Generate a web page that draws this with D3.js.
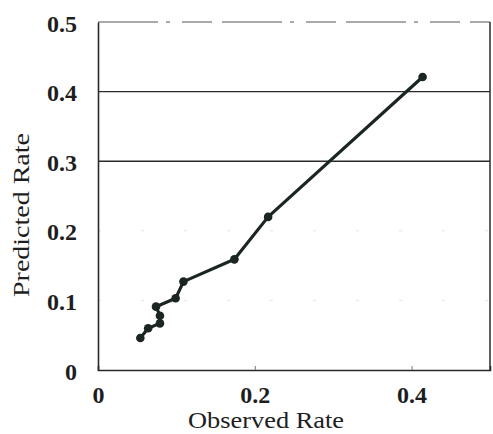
<!DOCTYPE html>
<html><head><meta charset="utf-8">
<script src="https://cdn.jsdelivr.net/npm/d3@7"></script>
<style>
html,body{margin:0;padding:0;background:#fff;}
svg{display:block;}
text{font-family:"Liberation Serif","Times New Roman",serif;fill:#1e1e1e;}
</style></head>
<body>
<script>
const observed  = [0.054, 0.064, 0.079, 0.079, 0.074, 0.099, 0.109, 0.174, 0.217, 0.414];
const predicted = [0.046, 0.060, 0.067, 0.078, 0.091, 0.103, 0.127, 0.159, 0.220, 0.421];
const xTicks = [0, 0.2, 0.4];
const yTicks = [0, 0.1, 0.2, 0.3, 0.4, 0.5];
const xTitle = "Observed Rate";
const yTitle = "Predicted Rate";

const W = 493, H = 434;
const m = {left: 98, right: 3, top: 22, bottom: 64};
const svg = d3.select("body").append("svg").attr("width", W).attr("height", H);

const x = d3.scaleLinear().domain([0, 0.5]).range([m.left, W - m.right]);
const y = d3.scaleLinear().domain([0, 0.5]).range([H - m.bottom, m.top]);

// gridlines
const strong = [0.3, 0.4];
svg.append("g").selectAll("line").data(yTicks.filter(d => d > 0 && d < 0.5)).join("line")
  .attr("x1", x(0)).attr("x2", x(0.5))
  .attr("y1", d => y(d)).attr("y2", d => y(d))
  .attr("stroke", d => strong.includes(d) ? "#2a2a2a" : "#e2e2e2")
  .attr("stroke-width", d => strong.includes(d) ? 1.4 : 1)
  .attr("stroke-dasharray", d => strong.includes(d) ? null : "3,40");

// top border (faded)
svg.append("line").attr("x1", x(0)).attr("x2", x(0.5)).attr("y1", y(0.5)).attr("y2", y(0.5))
  .attr("stroke", "#555").attr("stroke-width", 1.2).attr("stroke-dasharray", "60,8,4,12,30,10");
// right border
svg.append("line").attr("x1", x(0.5)).attr("x2", x(0.5)).attr("y1", y(0.5)).attr("y2", y(0))
  .attr("stroke", "#2a2a2a").attr("stroke-width", 1.5);

// axes
const fmt = d => d === 0 ? "0" : d3.format(".1f")(d);
const xAxis = svg.append("g").attr("transform", `translate(0,${y(0)})`)
  .call(d3.axisBottom(x).tickValues(xTicks).tickSize(-4).tickPadding(14).tickFormat(fmt));
const yAxis = svg.append("g").attr("transform", `translate(${x(0)},0)`)
  .call(d3.axisLeft(y).tickValues(yTicks).tickSize(0).tickPadding(21).tickFormat(fmt));
[xAxis, yAxis].forEach(g => {
  g.select(".domain").attr("stroke", "#2a2a2a").attr("stroke-width", 1.6);
  g.selectAll(".tick line").attr("stroke", "#777");
  g.selectAll("text").attr("font-family", "Liberation Serif, serif").attr("font-size", 24)
    .attr("font-weight", "bold").attr("fill", "#2e2e2e");
});
xAxis.selectAll("text").attr("dy", "0.78em");
yAxis.selectAll("text").attr("dy", "0.38em");

// line + markers
const pts = observed.map((v, i) => [v, predicted[i]]);
svg.append("path").datum(pts)
  .attr("fill", "none").attr("stroke", "#1b2620").attr("stroke-width", 3.2)
  .attr("stroke-linejoin", "round")
  .attr("d", d3.line().x(d => x(d[0])).y(d => y(d[1])));
svg.append("g").selectAll("circle").data(pts).join("circle")
  .attr("cx", d => x(d[0])).attr("cy", d => y(d[1])).attr("r", 4.3)
  .attr("fill", "#1b2620");

// titles
svg.append("text").attr("x", (x(0) + x(0.5)) / 2 - 28).attr("y", 428)
  .attr("text-anchor", "middle").attr("font-size", 23)
  .attr("textLength", 156).attr("lengthAdjust", "spacingAndGlyphs").text(xTitle);
svg.append("text").attr("transform", `translate(29,${215}) rotate(-90)`)
  .attr("text-anchor", "middle").attr("font-size", 23)
  .attr("textLength", 164).attr("lengthAdjust", "spacingAndGlyphs").text(yTitle);
</script>
</body></html>
